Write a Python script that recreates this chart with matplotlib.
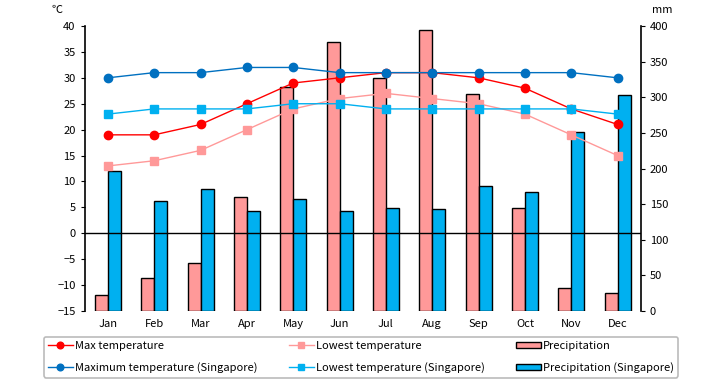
import matplotlib
matplotlib.use('Agg')
import matplotlib.pyplot as plt
import numpy as np

plt.rcParams['font.family'] = ['Noto Sans CJK JP', 'DejaVu Sans']

months = ['Jan', 'Feb', 'Mar', 'Apr', 'May', 'Jun', 'Jul', 'Aug', 'Sep', 'Oct', 'Nov', 'Dec']
max_temp = [19, 19, 21, 25, 29, 30, 31, 31, 30, 28, 24, 21]
low_temp = [13, 14, 16, 20, 24, 26, 27, 26, 25, 23, 19, 15]
precip = [23, 46, 67, 160, 314, 377, 327, 394, 304, 144, 33, 26]
max_sg = [30, 31, 31, 32, 32, 31, 31, 31, 31, 31, 31, 30]
low_sg = [23, 24, 24, 24, 25, 25, 24, 24, 24, 24, 24, 23]
precip_sg = [197, 154, 171, 140, 157, 140, 144, 143, 176, 167, 251, 303]

x = np.arange(len(months))
w = 0.28

fig = plt.figure(figsize=(7.2, 3.85), dpi=100)
ax = fig.add_axes([0.1176, 0.192, 0.7724, 0.7405])
ax2 = ax.twinx()
ax.set_zorder(ax2.get_zorder() + 1)
ax.patch.set_visible(False)
ax2.patch.set_facecolor('#FFFFCC')

# bars on the mm axis
b1 = ax2.bar(x - w / 2, precip, w, color='#FF9999', edgecolor='black', linewidth=1)
b2 = ax2.bar(x + w / 2, precip_sg, w, color='#00B0F0', edgecolor='black', linewidth=1)
ax2.set_ylim(0, 400)
ax2.set_yticks(range(0, 401, 50))

# temperature lines
ax.axhline(0, color='black', linewidth=1)
l1, = ax.plot(x, max_temp, color='#FF0000', marker='o', markersize=6, linewidth=1)
l3, = ax.plot(x, low_temp, color='#FF9999', marker='s', markersize=6, linewidth=1)
l2, = ax.plot(x, max_sg, color='#0070C0', marker='o', markersize=6, linewidth=1)
l4, = ax.plot(x, low_sg, color='#00B0F0', marker='s', markersize=6, linewidth=1)
ax.set_ylim(-15, 40)
ax.set_yticks(range(-15, 41, 5))
ax.set_xlim(-0.5, 11.5)
ax.set_xticks(x)
ax.set_xticklabels(months)

for a in (ax, ax2):
    a.spines['top'].set_visible(False)
    a.spines['bottom'].set_visible(False)
    a.tick_params(axis='both', labelsize=8, length=3)
    a.tick_params(axis='x', length=0, pad=6)
ax.spines['left'].set_linewidth(1.2)
ax2.spines['right'].set_linewidth(1.2)
ax.spines['right'].set_visible(False)
ax2.spines['left'].set_visible(False)

fig.text(0.072, 0.975, '℃', fontsize=8, ha='left', va='center')
fig.text(0.905, 0.975, 'mm', fontsize=8, ha='left', va='center')

handles = [l1, l2, l3, l4, b1, b2]
labels = ['Max temperature', 'Maximum temperature (Singapore)',
          'Lowest temperature', 'Lowest temperature (Singapore)',
          'Precipitation', 'Precipitation (Singapore)']
leg = fig.legend(handles, labels, loc='lower left', bbox_to_anchor=(0.053, 0.005, 0.897, 0.13),
                 mode='expand', ncol=3, fontsize=8, frameon=True, fancybox=True,
                 edgecolor='#AAAAAA', handlelength=2.2, handleheight=0.5,
                 handletextpad=0.2, labelspacing=1.0, borderpad=0.4, markerscale=0.8)
leg.get_frame().set_linewidth(1.2)

fig.savefig('out.png', dpi=100)
